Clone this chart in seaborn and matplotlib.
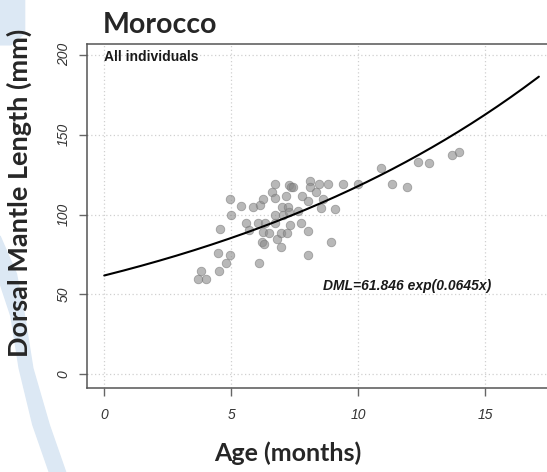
import numpy as np
import pandas as pd
import matplotlib
matplotlib.use("Agg")
import matplotlib.pyplot as plt
import seaborn as sns
from matplotlib.patches import Polygon

age = [3.70, 4.01, 3.79, 4.52, 4.78, 4.48, 4.94, 4.55, 4.96, 4.98,
       5.39, 5.57, 5.70, 5.86, 6.13, 6.25, 6.06, 6.32, 6.23, 6.49,
       6.20, 6.28, 6.10, 6.62, 6.73, 6.73, 6.72, 6.72, 6.78, 6.95,
       6.94, 6.98, 7.02, 7.15, 7.24, 7.28, 7.28, 7.33, 7.44, 7.31,
       7.21, 7.63, 7.74, 7.78, 8.03, 8.03, 8.01, 8.09, 8.09, 8.33,
       8.43, 8.54, 8.59, 8.79, 8.91, 9.06, 9.38, 9.99, 10.89, 11.33,
       11.90, 12.33, 12.77, 13.68, 13.97]
dml = [59.7, 59.7, 64.9, 64.9, 69.5, 75.8, 74.5, 90.8, 109.6, 99.7,
       105.6, 94.6, 90.4, 104.6, 105.8, 109.6, 94.6, 94.6, 89.3, 88.3,
       82.7, 81.6, 69.5, 114.3, 119.2, 110.6, 99.6, 94.6, 84.5, 79.5,
       88.3, 104.6, 99.6, 111.6, 104.6, 101.4, 118.7, 117.1, 117.5, 93.5,
       88.3, 102.4, 94.6, 111.6, 108.5, 89.7, 74.7, 121.2, 117.5, 114.3,
       119.2, 104.3, 109.6, 119.2, 82.7, 103.5, 119.2, 119.3, 129.4, 119.2,
       117.3, 133.1, 132.3, 137.1, 139.2]

# fitted model shown on the chart
a_coef = 61.846
b_coef = 0.0645
fit_age = np.linspace(0, 17.1, 200)

x_ticks = [0, 5, 10, 15]
y_ticks = [0, 50, 100, 150, 200]

df = pd.DataFrame({"Age": age, "DML": dml})
fit_df = pd.DataFrame({"Age": fit_age, "DML": a_coef * np.exp(b_coef * fit_age)})

sns.set_style("white")
plt.rcParams["font.family"] = ["Liberation Sans", "DejaVu Sans"]

fig = plt.figure(figsize=(5.47, 4.72), dpi=100)

# light blue slide decoration on the left
fig.patches.append(Polygon([[0, 1], [0.045, 1], [0.045, 0.93], [0.02, 0.905], [0, 0.905]],
                           closed=True, transform=fig.transFigure, color="#dce8f4", zorder=0))
fig.patches.append(Polygon([[0.0, 0.50], [0.03, 0.42], [0.045, 0.33], [0.06, 0.22], [0.09, 0.10],
                            [0.12, 0.0], [0.09, 0.0], [0.06, 0.10], [0.035, 0.22], [0.02, 0.33],
                            [0.0, 0.40]],
                           closed=True, transform=fig.transFigure, color="#dce8f4", zorder=0))

ax = fig.add_axes([0.1585, 0.1786, 0.8415, 0.7282])
ax.set_facecolor("white")

sns.scatterplot(data=df, x="Age", y="DML", ax=ax, s=38, color="#8a8a8a",
                alpha=0.6, edgecolor="#777777", linewidth=0.6, zorder=3)
sns.lineplot(data=fit_df, x="Age", y="DML", ax=ax, color="black", linewidth=1.5, zorder=4)

ax.set_xlim(-0.69, 17.42)
ax.set_ylim(-8.4, 206.8)
ax.set_xticks(x_ticks)
ax.set_yticks(y_ticks)
ax.grid(True, color="#d0d0d0", linestyle=(0, (1, 2)), linewidth=0.9)

for side in ["left", "bottom", "top"]:
    ax.spines[side].set_color("#555555")
    ax.spines[side].set_linewidth(1.1)
ax.spines["right"].set_visible(False)

ax.tick_params(axis="both", direction="out", length=5.5, width=1, color="#666666",
               labelsize=10, labelcolor="#333333", bottom=True, left=True)
ax.tick_params(axis="x", pad=9)
ax.tick_params(axis="y", pad=6)
for lab in ax.get_xticklabels():
    lab.set_fontstyle("italic")
for lab in ax.get_yticklabels():
    lab.set_fontstyle("italic")
    lab.set_rotation(90)
    lab.set_va("center")

ax.set_xlabel("")
ax.set_ylabel("")

ax.text(0.0, 198.7, "All individuals", fontsize=10, fontweight="bold",
        va="center", ha="left", color="#1a1a1a")
ax.text(8.59, 55.3, "DML=61.846 exp(0.0645x)", fontsize=10, fontweight="bold",
        fontstyle="italic", va="center", ha="left", color="#1a1a1a")

fig.text(103 / 547, 1 - 33 / 472, "Morocco", fontsize=20.5, fontweight="bold",
         family=["Lato", "DejaVu Sans"], ha="left", va="baseline")
fig.text(288 / 547, 1 - 453 / 472, "Age (months)", fontsize=18, fontweight="bold",
         family=["Lato", "DejaVu Sans"], ha="center", va="center")
fig.text(19 / 547, 1 - 193 / 472, "Dorsal Mantle Length (mm)", fontsize=19.5, fontweight="bold",
         family=["Lato", "DejaVu Sans"], ha="center", va="center", rotation=90)

fig.savefig("out.png", dpi=100)
